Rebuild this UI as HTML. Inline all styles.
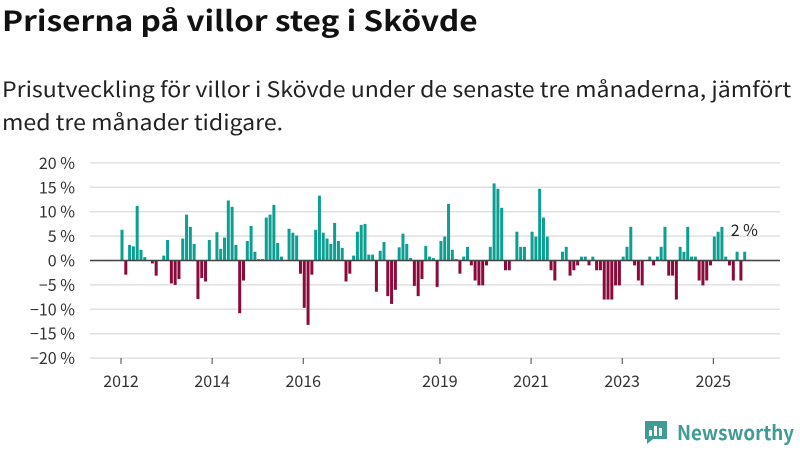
<!DOCTYPE html>
<html><head><meta charset="utf-8"><style>
body{margin:0;width:800px;height:450px;background:#fff;font-family:"Noto Sans CJK JP","Liberation Sans",sans-serif;overflow:hidden;position:relative}
h1{position:absolute;left:2px;top:-1px;margin:0;font-size:28px;line-height:42px;font-weight:bold;color:#111;transform:scaleX(1.13);transform-origin:0 0;white-space:nowrap}
p{position:absolute;left:2px;top:73px;margin:0;font-size:21px;line-height:33px;color:#222;width:735px;transform:scaleX(1.1);transform-origin:0 0}
svg{position:absolute;left:0;top:0}
svg text{font-family:"Noto Sans CJK JP","Liberation Sans",sans-serif}
</style></head><body>
<h1>Priserna på villor steg i Skövde</h1>
<p>Prisutveckling för villor i Skövde under de senaste tre månaderna, jämfört med tre månader tidigare.</p>
<svg id="c" width="800" height="450"></svg>
<script>
const values=[6.3,-2.9,3.2,2.9,11.2,2.2,0.7,0,-0.6,-3.1,0,1,4.2,-4.7,-5,-3.8,4.5,9.4,6.9,3.4,-7.9,-3.6,-4.3,4.2,0,5.8,2.4,4.7,12.3,11,3.2,-10.8,-4.1,4,
7.1,1.8,0.3,0.3,8.8,9.4,11.4,3.6,0.8,0,6.5,5.7,5.1,-2.7,-9.7,-13.2,-2.9,6.3,13.3,5.7,4.5,3.4,7.7,4,2.6,-4.3,-2.7,1,5.9,7.3,7.5,1.2,1.2,-6.4,2,
3.8,-7.3,-8.9,-6,2.7,5.5,3.4,0.5,-5.2,-7.3,-3.8,3,0.8,0.5,-5.4,4,4.9,11.6,2.2,0.3,-2.7,0.8,2.8,-1,-4.1,-5.1,-5.1,-1,2.8,15.8,14.7,10.8,-2,-2,0,
5.9,2.8,2.8,0,5.9,4.9,14.7,8.8,4.9,-2,-4.1,0,1.8,2.8,-3.1,-2,-1,0.8,0.8,-1,0.8,-2,-2,-8,-8,-8,-5.1,-5.1,0.8,2.8,6.9,-1,-4.1,-5.1,0,0.8,
-1,0.8,2.8,6.9,-3.1,-3.1,-8,2.8,1.8,6.9,0.8,0.8,-4.1,-5.1,-4.1,-1,4.9,5.9,6.9,0.8,-1,-4.1,1.8,-4.1,1.8];
const yTicks=[20,15,10,5,0,-5,-10,-15,-20];
const xTickLabels=["2012","2014","2016","2019","2021","2023","2025"];
const xTickIndex=[0,24,48,84,108,132,156];
const lastLabel="2 %";
const svg=document.getElementById('c');
const NS="http://www.w3.org/2000/svg";
const x0=122,x1=744.7,step=(x1-x0)/(values.length-1);
const X=i=>x0+i*step;
const Y=v=>260.5-v*4.88;
function mk(t,a){const e=document.createElementNS(NS,t);for(const k in a)e.setAttribute(k,a[k]);svg.appendChild(e);return e;}
yTicks.forEach(t=>{
 const g=mk('line',{x1:90,x2:780,y1:Y(t),y2:Y(t),stroke:'#e0e0e0','stroke-width':1.5});
 
 
 const l=mk('text',{x:75,y:Y(t)+6,'text-anchor':'end','font-size':16,fill:'#333'});
 l.textContent=(t<0?'\u2212'+(-t):t)+' %';
 
 
});
values.forEach((v,i)=>{
 const r=mk('rect',{x:X(i)-1.5,width:3,y:Math.min(Y(v),Y(0)),height:Math.abs(Y(v)-Y(0)),fill:v>=0?'#0e9f93':'#8b0a3c'});
 
 
});
const zl=mk('line',{x1:90,x2:780,y1:Y(0),y2:Y(0),stroke:'#444','stroke-width':1.5});


xTickLabels.forEach((s,k)=>{
 const x=X(xTickIndex[k])-1;
 const tk=mk('line',{x1:x,x2:x,y1:358,y2:364,stroke:'#444'});
 
 
 const t=mk('text',{x:x,y:387,'text-anchor':'middle','font-size':16,fill:'#333'});
 t.textContent=s;
 
 
});
const ll=mk('text',{x:X(values.length-1)-14,y:236,'font-size':16,fill:'#222'});
ll.textContent=lastLabel;


</script>
<svg width="800" height="450" style="position:absolute;left:0;top:0">
<path d="M645 421h22v18h-14l-6 5v-5h-2z" fill="#3f9b94"/>
<rect x="649" y="430" width="3" height="6" fill="#fff"/><rect x="654" y="426" width="3" height="10" fill="#fff"/><rect x="659" y="428" width="3" height="8" fill="#fff"/>
<text x="677" y="440" font-size="20" font-weight="bold" fill="#3f9b94" textLength="117" lengthAdjust="spacingAndGlyphs">Newsworthy</text>
</svg>
</body></html>
